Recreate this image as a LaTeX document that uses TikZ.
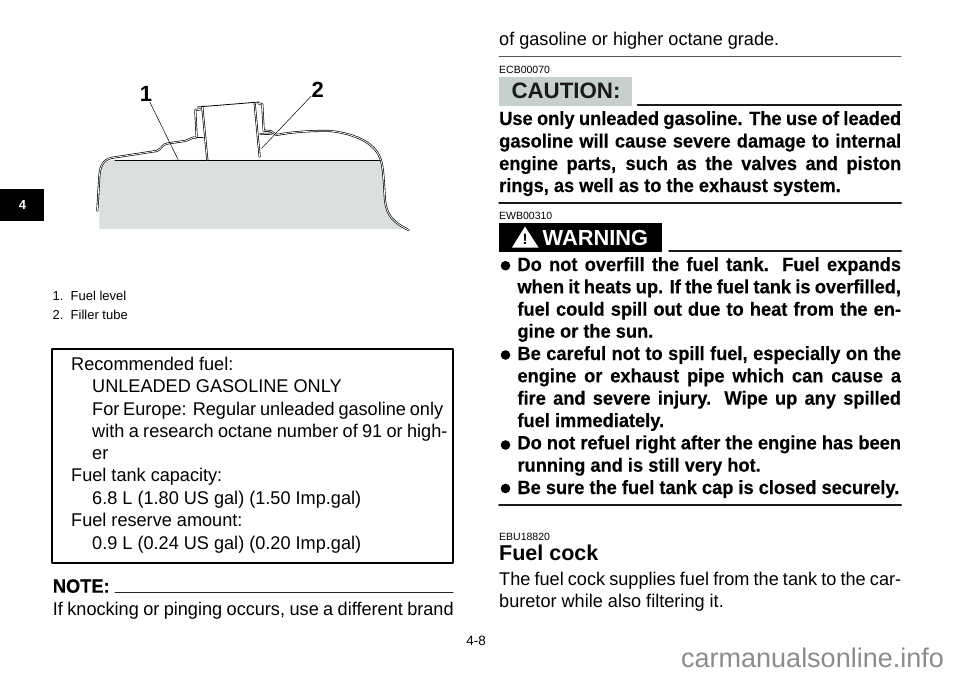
\documentclass[tikz,border=0pt]{standalone}
\usepackage{fontspec}
\setmainfont{Liberation Sans}
\newfontfamily\condreg[FakeStretch=.985]{Liberation Sans}
\newfontfamily\condbld[FakeStretch=.95,FakeBold=.25]{Liberation Sans Bold}
\definecolor{tankgray}{HTML}{DBE0DF}
\definecolor{cautgray}{HTML}{C6D0CD}
\tikzset{
	txt/.style={anchor=base west,inner sep=0pt,font=\fontsize{18.4}{20}\condreg},
	bld/.style={anchor=base west,inner sep=0pt,font=\fontsize{19.2}{20}\condbld},
	tiny/.style={anchor=base west,inner sep=0pt,font=\fontsize{10.5}{12}\selectfont},
	capt/.style={anchor=base west,inner sep=0pt,font=\fontsize{13}{15}\selectfont},
	callout/.style={inner sep=0pt,font=\fontsize{22}{24}\selectfont\bfseries},
	tank/.style={line width=.65pt,double=white,double distance=.75pt},
	rul/.style={line width=2pt,draw=black!90}
}
\newcommand{\fit}[2]{\makebox[#1pt][s]{#2}}
\begin{document}
\begin{tikzpicture}[x=1pt,y=-1pt,line join=round,line cap=round]
	\useasboundingbox[fill=white] (0,0) rectangle (960,675);
	% side tab
	\fill[black] (0,189) rectangle (44,221);
	\node[font=\fontsize{13}{15}\selectfont\bfseries,text=white,inner sep=0pt] (tab) at (22.5,205) {4};
	% fuel tank
	\begin{scope}[shift={(0,60)},x=.3333pt,y=-.3333pt]
		\fill[tankgray] (298,507) -- (298,350) .. controls (300,315) and (315,300) .. (345,300) -- (1140,300) .. controls (1150,320) and (1152,360) .. (1155,420) .. controls (1160,470) and (1190,490) .. (1215,507) -- cycle;
		\draw[line width=.8pt] (345,300) -- (1140,300);
		\draw[tank] (292,452) -- (298,350) .. controls (300,310) and (315,295) .. (345,292) -- (470,273) .. controls (485,268) and (485,252) .. (505,250) -- (555,243) .. controls (570,240) and (570,232) .. (590,232) -- (586,150) -- (602,148);
		\draw[tank] (590,235) -- (608,235);
		\draw[tank] (607,140) -- (622,300);
		\draw[tank] (764,130) -- (779,290);
		\draw[tank] (775,130) -- (787,133) -- (791,212) -- (812,213) -- (830,225) .. controls (880,215) and (940,212) .. (990,213) .. controls (1060,220) and (1110,245) .. (1130,275) .. controls (1150,300) and (1150,340) .. (1155,420) .. controls (1160,470) and (1185,490) .. (1226,510);
		\draw[tank] (781,222) -- (815,221);
		\draw[line width=.8pt] (592,141) -- (778,126);
		\node[callout] (one) at (438,103) {1};
		\node[callout] (two) at (953,88) {2};
		\coordinate (level) at (535,300);
		\coordinate (tube) at (785,265);
		\draw[line width=.5pt] (one) -- (level);
		\draw[line width=.5pt] (two) -- (tube);
	\end{scope}
	\node[capt] (c1) at (52.5,300) {1.};
	\node[capt] (c1t) at (70.5,300) {Fuel level};
	\node[capt] (c2) at (52.5,319.5) {2.};
	\node[capt] (c2t) at (70.5,319.5) {Filler tube};
	% spec box
	\draw[line width=1.6pt] (52,349) rectangle (453,562.7);
	\foreach \i/\x/\y/\t in {1/71/370/{Recommended fuel:},2/92/392.5/{UNLEADED GASOLINE ONLY},5/92/459.5/{er},6/71/481.7/{Fuel tank capacity:},7/92/504.2/{6.8 L (1.80 US gal) (1.50 Imp.gal)},8/71/526.2/{Fuel reserve amount:},9/92/549/{0.9 L (0.24 US gal) (0.20 Imp.gal)}}
	\node[txt] (spec\i) at (\x,\y) {\t};
	\node[txt] (spec3) at (92,415) {\fit{351}{For Europe: Regular unleaded gasoline only}};
	\node[txt] (spec4) at (92,437.2) {\fit{355.3}{with a research octane number of 91 or high-}};
	\node[bld] (note) at (52.7,592.7) {NOTE:};
	\draw[line width=1pt,draw=black!85] (115,592.3) -- (453,592.3);
	\node[txt] (knock) at (52.7,615) {\fit{400.8}{If knocking or pinging occurs, use a different brand}};
	% right column
	\node[txt] (top) at (499,45) {of gasoline or higher octane grade.};
	\draw[line width=1pt,draw=black!65] (499,56.5) -- (901,56.5);
	\node[tiny] (ecb) at (499,73) {ECB00070};
	\fill[cautgray] (499,77) rectangle (632,105.5);
	\node[inner sep=0pt,font=\fontsize{22.3}{25}\selectfont\bfseries,text=black!90] (caut) at (566,91) {CAUTION:};
	\draw[rul] (637.5,104.5) -- (901,104.5);
	\foreach \i/\y/\t in {1/125/{Use only unleaded gasoline. The use of leaded},2/147.5/{gasoline will cause severe damage to internal},3/170/{engine parts, such as the valves and piston}}
	\node[bld] (caut\i) at (499,\y) {\fit{402}{\t}};
	\node[bld] (caut4) at (499,192) {rings, as well as to the exhaust system.};
	\draw[rul] (499,203) -- (901,203);
	\node[tiny] (ewb) at (499,219) {EWB00310};
	\fill[black] (499,223) rectangle (662,251.7);
	\fill[white] (525,226.5) -- (538.5,247.5) -- (512,247.5) -- cycle;
	\node[inner sep=0pt,font=\fontsize{15}{15}\selectfont\bfseries] (excl) at (525.2,239.5) {!};
	\node[inner sep=0pt,font=\fontsize{21.8}{24}\selectfont\bfseries,text=white,anchor=base west] (warn) at (542.5,245) {WARNING};
	\draw[rul] (669,250.5) -- (901,250.5);
	\foreach \i/\y/\t in {1/271/{Do not overfill the fuel tank. Fuel expands},2/293.3/{when it heats up. If the fuel tank is overfilled,},3/315.7/{fuel could spill out due to heat from the en-},5/360/{Be careful not to spill fuel, especially on the},6/382.3/{engine or exhaust pipe which can cause a},7/404.7/{fire and severe injury. Wipe up any spilled},9/449.3/{Do not refuel right after the engine has been}}
	\node[bld] (warn\i) at (517.3,\y) {\fit{383.5}{\t}};
	\foreach \i/\y/\t in {4/337.7/{gine or the sun.},8/427/{fuel immediately.},10/471.7/{running and is still very hot.},11/494/{Be sure the fuel tank cap is closed securely.}}
	\node[bld] (warn\i) at (517.3,\y) {\t};
	\foreach \y in {265.7,355,445,488.5}
	\fill[black] (505.5,\y) circle (4.8);
	\draw[rul] (499,504.5) -- (901,504.5);
	\node[tiny] (ebu) at (499,540) {EBU18820};
	\node[inner sep=0pt,anchor=base west,font=\fontsize{21.5}{24}\selectfont\bfseries] (cock) at (499,560) {Fuel cock};
	\node[txt] (sup1) at (499,585.7) {\fit{402}{The fuel cock supplies fuel from the tank to the car-}};
	\node[txt] (sup2) at (499,607.7) {buretor while also filtering it.};
	% footer
	\node[inner sep=0pt,font=\fontsize{13.5}{15}\selectfont] (page) at (476,641) {4-8};
	\node[inner sep=0pt,anchor=base west,text=black!45,font=\fontsize{27}{29}\selectfont] (mark) at (681,667) {carmanualsonline.info};
\end{tikzpicture}
\end{document}
